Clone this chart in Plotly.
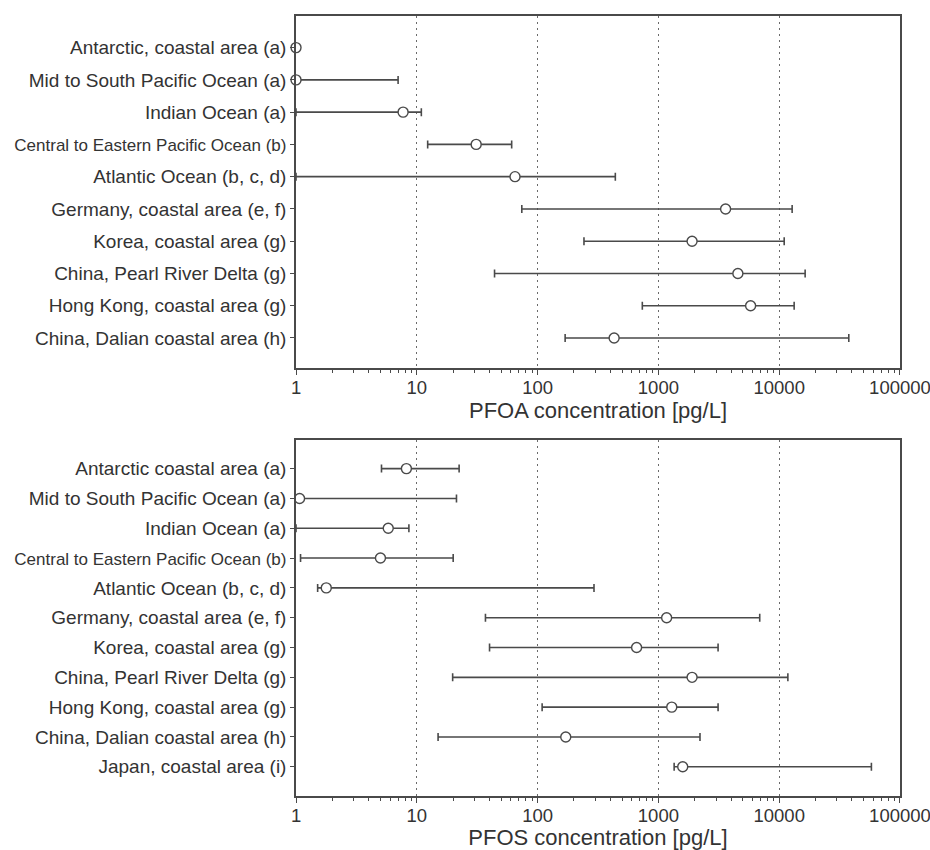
import plotly.graph_objects as go

# ---------------- data ----------------
pfoa_sites = [
    "Antarctic, coastal area (a)",
    "Mid to South Pacific Ocean (a)",
    "Indian Ocean (a)",
    "Central to Eastern Pacific Ocean (b)",
    "Atlantic Ocean (b, c, d)",
    "Germany, coastal area (e, f)",
    "Korea, coastal area (g)",
    "China, Pearl River Delta (g)",
    "Hong Kong, coastal area (g)",
    "China, Dalian coastal area (h)",
]
pfoa_median = [1, 1, 7.7, 31, 65, 3600, 1900, 4550, 5800, 430]
pfoa_low = [1, 1, 1, 12.3, 1, 74, 242, 44, 736, 169]
pfoa_high = [1, 7.0, 10.9, 61, 440, 12800, 11000, 16400, 13300, 37700]

pfos_sites = [
    "Antarctic coastal area (a)",
    "Mid to South Pacific Ocean (a)",
    "Indian Ocean (a)",
    "Central to Eastern Pacific Ocean (b)",
    "Atlantic Ocean (b, c, d)",
    "Germany, coastal area (e, f)",
    "Korea, coastal area (g)",
    "China, Pearl River Delta (g)",
    "Hong Kong, coastal area (g)",
    "China, Dalian coastal area (h)",
    "Japan, coastal area (i)",
]
pfos_median = [8.2, 1.07, 5.8, 5.0, 1.78, 1170, 660, 1900, 1290, 171, 1590]
pfos_low = [5.1, 1, 1, 1.09, 1.51, 37, 40, 19.8, 109, 15, 1350]
pfos_high = [22.4, 21.3, 8.6, 20, 293, 6900, 3120, 11800, 3120, 2210, 58000]

x_tick_vals = [1, 10, 100, 1000, 10000, 100000]
x_tick_text = ["1", "10", "100", "1000", "10000", "100000"]

# ---------------- style ----------------
FONT = "Liberation Sans, Arial, sans-serif"
TXT = "#333333"
LINE = "#4a4a4a"


def label(s):
    if s.startswith("Central"):
        return '<span style="font-size:17px">' + s + "</span>"
    return s


def add_panel(fig, sites, med, low, high, row):
    ys = list(range(len(sites)))
    fig.add_trace(
        go.Scatter(
            x=med,
            y=ys,
            mode="markers",
            cliponaxis=False,
            showlegend=False,
            hoverinfo="skip",
            marker=dict(size=10, color="white", line=dict(color=LINE, width=1.4)),
            error_x=dict(
                type="data",
                symmetric=False,
                array=[h - m for h, m in zip(high, med)],
                arrayminus=[m - l for m, l in zip(med, low)],
                color=LINE,
                thickness=1.6,
                width=4,
            ),
            xaxis="x" if row == 1 else "x2",
            yaxis="y" if row == 1 else "y2",
        )
    )


fig = go.Figure()
add_panel(fig, pfoa_sites, pfoa_median, pfoa_low, pfoa_high, 1)
add_panel(fig, pfos_sites, pfos_median, pfos_low, pfos_high, 2)

xdom = [296 / 930, 900 / 930]
top_dom = [1 - 368.3 / 850, 1 - 16 / 850]
bot_dom = [1 - 796 / 850, 1 - 440 / 850]

xaxis_common = dict(
    type="log",
    range=[-0.0002, 5.0002],
    domain=xdom,
    automargin=False,
    tickmode="array",
    tickvals=x_tick_vals,
    ticktext=x_tick_text,
    ticks="outside",
    ticklen=5,
    tickwidth=1.4,
    tickcolor=LINE,
    showline=True,
    linecolor=LINE,
    linewidth=1.5,
    mirror=True,
    showgrid=True,
    gridcolor="#6a6a6a",
    gridwidth=1.3,
    griddash="2px,4px",
    zeroline=False,
    ticklabelstandoff=-3,
    ticklabeloverflow="allow",
    tickfont=dict(family=FONT, size=18.5, color=TXT),
    minor=dict(ticks="outside", ticklen=3, tickwidth=1.2, tickcolor=LINE,
               dtick="D1", showgrid=False),
)

yaxis_common = dict(
    tickmode="array",
    automargin=False,
    ticks="outside",
    ticklen=4,
    tickwidth=1.3,
    tickcolor=LINE,
    showline=True,
    linecolor=LINE,
    linewidth=1.5,
    mirror=True,
    showgrid=False,
    zeroline=False,
    ticklabelstandoff=0,
    tickfont=dict(family=FONT, size=19, color=TXT),
)

fig.update_layout(
    width=930,
    height=850,
    margin=dict(l=0, r=0, t=0, b=0, autoexpand=False),
    paper_bgcolor="white",
    plot_bgcolor="white",
    font=dict(family=FONT, color=TXT),
    hovermode=False,
    xaxis=dict(
        **xaxis_common,
        anchor="y",
        title=dict(text="PFOA concentration [pg/L]",
                   font=dict(family=FONT, size=22, color=TXT), standoff=0),
    ),
    yaxis=dict(
        **yaxis_common,
        domain=top_dom,
        anchor="x",
        range=[9.94, -0.98],
        tickvals=list(range(len(pfoa_sites))),
        ticktext=[label(s) for s in pfoa_sites],
    ),
    xaxis2=dict(
        **xaxis_common,
        anchor="y2",
        title=dict(text="PFOS concentration [pg/L]",
                   font=dict(family=FONT, size=22, color=TXT), standoff=0),
    ),
    yaxis2=dict(
        **yaxis_common,
        domain=bot_dom,
        anchor="x2",
        range=[10.98, -0.96],
        tickvals=list(range(len(pfos_sites))),
        ticktext=[label(s) for s in pfos_sites],
    ),
)

fig.write_html(
    "out.html",
    config={"displayModeBar": False},
    post_script="document.body.style.margin='0';document.body.style.padding='0';",
)
